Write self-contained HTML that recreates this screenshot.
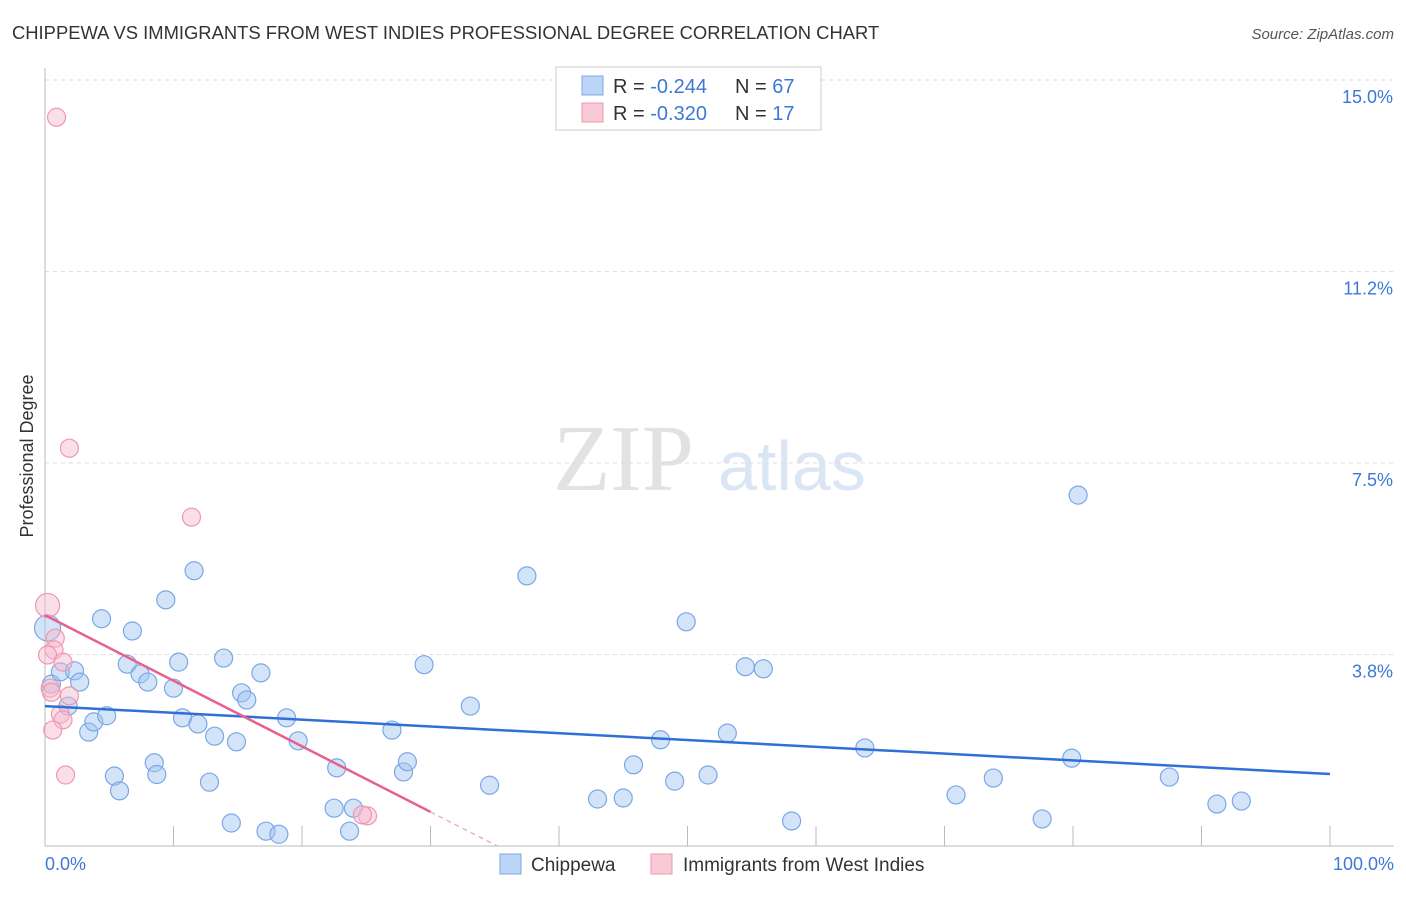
<!DOCTYPE html>
<html><head><meta charset="utf-8"><style>
body{margin:0;background:#fff;font-family:"Liberation Sans",sans-serif;}
</style></head><body>
<svg id="chart" width="1406" height="892" xmlns="http://www.w3.org/2000/svg">
<text x="12" y="39" font-size="18.4" fill="#333">CHIPPEWA VS IMMIGRANTS FROM WEST INDIES PROFESSIONAL DEGREE CORRELATION CHART</text>
<text x="1394" y="39" font-size="15" fill="#555" font-style="italic" text-anchor="end">Source: ZipAtlas.com</text>
<g>
<text x="553" y="490" font-size="94" font-family="Liberation Serif,serif" fill="#e2e2e2">ZIP</text>
<text x="718" y="490" font-size="70" fill="#dbe6f5">atlas</text>
</g>
<g id="grid"></g>
<line x1="45" y1="68" x2="45" y2="846" stroke="#bbb"/>
<line x1="45" y1="846" x2="1394" y2="846" stroke="#bbb"/>
<g id="xticks"></g>
<g id="ylabels"></g>
<text x="45" y="870" font-size="18" fill="#3c78d8">0.0%</text>
<text x="1394" y="870" font-size="18" fill="#3c78d8" text-anchor="end">100.0%</text>
<text transform="translate(33,456) rotate(-90)" font-size="18" fill="#333" text-anchor="middle">Professional Degree</text>
<g id="pts"></g>
<g id="trends"></g>
<g>
<rect x="556" y="67" width="265" height="63" fill="#fff" stroke="#ccc"/>
<rect x="582" y="76" width="21" height="19" fill="#bcd4f5" stroke="#7aa7e6"/>
<rect x="582" y="103" width="21" height="19" fill="#f9c9d6" stroke="#ee97b0"/>
<text x="613" y="93" font-size="20" fill="#333">R = <tspan fill="#3c78d8">-0.244</tspan><tspan x="735">N = </tspan><tspan fill="#3c78d8">67</tspan></text>
<text x="613" y="120" font-size="20" fill="#333">R = <tspan fill="#3c78d8">-0.320</tspan><tspan x="735">N = </tspan><tspan fill="#3c78d8"> 17</tspan></text>
</g>
<g>
<rect x="500" y="854" width="21" height="20" fill="#bcd4f5" stroke="#7aa7e6"/>
<text x="531" y="871" font-size="19" fill="#333">Chippewa</text>
<rect x="651" y="854" width="21" height="20" fill="#f9c9d6" stroke="#ee97b0"/>
<text x="683" y="871" font-size="19" fill="#333">Immigrants from West Indies</text>
</g>
</svg>
<script>
const yTicks=[15.0,11.25,7.5,3.75];
const yTickLabels=["15.0%","11.2%","7.5%","3.8%"];
const xTicks=[0,10,20,30,40,50,60,70,80,90,100];
const blueX=[0.5,1.2,2.3,2.7,1.8,3.4,3.8,4.8,4.4,6.8,6.4,7.4,8.0,9.4,10.0,10.4,11.6,10.7,11.9,13.9,13.2,14.9,15.3,15.7,16.8,18.8,19.7,5.4,5.8,8.5,8.7,12.8,14.5,17.2,18.2,22.7,22.5,24.0,23.7,27.0,27.9,28.2,29.5,33.1,34.6,37.5,43.0,45.0,45.8,47.9,49.0,49.9,51.6,53.1,54.5,55.9,58.1,63.8,70.9,73.8,77.6,79.9,80.4,87.5,91.2,93.1,0.2];
const blueY=[3.17,3.41,3.43,3.21,2.74,2.23,2.43,2.55,4.45,4.21,3.56,3.37,3.21,4.82,3.09,3.60,5.39,2.51,2.39,3.68,2.15,2.04,3.00,2.86,3.39,2.51,2.06,1.37,1.08,1.63,1.40,1.25,0.45,0.29,0.23,1.53,0.74,0.74,0.29,2.27,1.45,1.65,3.55,2.74,1.19,5.29,0.92,0.94,1.59,2.08,1.27,4.39,1.39,2.21,3.51,3.47,0.49,1.92,1.00,1.33,0.53,1.72,6.87,1.35,0.82,0.88,4.27];
const pinkX=[0.9,1.9,11.4,0.2,0.8,0.7,0.2,1.4,0.4,0.5,1.9,1.2,1.4,0.6,1.6,25.1,24.7];
const pinkY=[14.27,7.79,6.44,4.71,4.07,3.84,3.74,3.60,3.09,3.01,2.94,2.58,2.47,2.27,1.39,0.59,0.61];
const pinkR=[9,9,9,12,9,9,9,9,9,9,9,9,9,9,9,9,9];
const blueR=[9,9,9,9,9,9,9,9,9,9,9,9,9,9,9,9,9,9,9,9,9,9,9,9,9,9,9,9,9,9,9,9,9,9,9,9,9,9,9,9,9,9,9,9,9,9,9,9,9,9,9,9,9,9,9,9,9,9,9,9,9,9,9,9,9,9,13];
const blueTrend=[2.74,1.41];
const pinkTrend=[4.52,0.0];
const pinkTrendEndX=35.2, pinkSolidEndX=30;
const NS="http://www.w3.org/2000/svg";
const X=v=>45+v*12.85, Y=v=>846-v*51.07;
function mk(t,a,p){const e=document.createElementNS(NS,t);for(const k in a)e.setAttribute(k,a[k]);p.appendChild(e);return e;}
const grid=document.getElementById('grid'),yl=document.getElementById('ylabels'),xt=document.getElementById('xticks');
yTicks.forEach((t,i)=>{
 const l=mk('line',{x1:45,x2:1394,y1:Y(t),y2:Y(t),stroke:'#ddd','stroke-dasharray':'4,4'},grid);
 
 
 const tx=mk('text',{x:1393,y:Y(t)+23,'font-size':18,fill:'#3c78d8','text-anchor':'end'},yl);
 tx.textContent=yTickLabels[i];
 
 
});
xTicks.forEach(t=>{
 const l=mk('line',{x1:X(t),x2:X(t),y1:826,y2:846,stroke:'#bbb'},xt);
 
 
});
const pts=document.getElementById('pts');
blueX.forEach((v,i)=>{
 const c=mk('circle',{cx:X(v),cy:Y(blueY[i]),r:blueR[i],fill:'rgba(160,195,240,0.45)',stroke:'#7aa7e6','stroke-width':1.2},pts);
 
 
});
pinkX.forEach((v,i)=>{
 const c=mk('circle',{cx:X(v),cy:Y(pinkY[i]),r:pinkR[i],fill:'rgba(247,185,205,0.45)',stroke:'#ee97b0','stroke-width':1.2},pts);
 
 
});
const tr=document.getElementById('trends');
const bl=mk('line',{x1:X(0),y1:Y(blueTrend[0]),x2:X(100),y2:Y(blueTrend[1]),stroke:'#2f6fd6','stroke-width':2.5},tr);


const pv=x=>pinkTrend[0]+(pinkTrend[1]-pinkTrend[0])*x/pinkTrendEndX;
const pl=mk('line',{x1:X(0),y1:Y(pinkTrend[0]),x2:X(pinkSolidEndX),y2:Y(pv(pinkSolidEndX)),stroke:'#e8608e','stroke-width':2.5},tr);


const pd=mk('line',{x1:X(pinkSolidEndX),y1:Y(pv(pinkSolidEndX)),x2:X(pinkTrendEndX),y2:Y(pinkTrend[1]),stroke:'#e8a0b8','stroke-width':1.2,'stroke-dasharray':'5,4'},tr);


</script>
</body></html>
